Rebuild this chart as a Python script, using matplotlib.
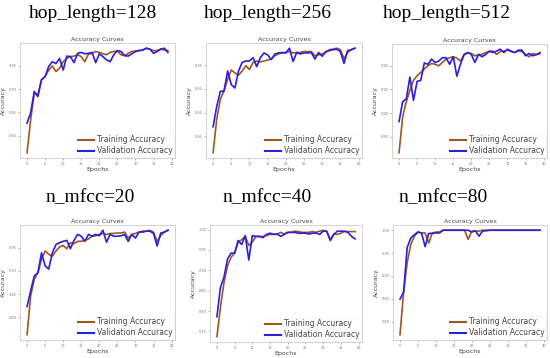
import matplotlib
matplotlib.use("Agg")
import matplotlib.pyplot as plt
import numpy as np

epochs = list(range(40))

titles = ["hop_length=128", "hop_length=256", "hop_length=512",
          "n_mfcc=20", "n_mfcc=40", "n_mfcc=80"]

train_hop128 = [0.763, 0.834, 0.891, 0.888, 0.920, 0.927, 0.941, 0.950, 0.938, 0.945,
                0.959, 0.966, 0.970, 0.971, 0.974, 0.970, 0.959, 0.975, 0.977, 0.981,
                0.979, 0.976, 0.974, 0.979, 0.981, 0.982, 0.974, 0.972, 0.977, 0.981,
                0.982, 0.983, 0.984, 0.988, 0.986, 0.983, 0.983, 0.986, 0.984, 0.983]
val_hop128 = [0.827, 0.849, 0.895, 0.884, 0.920, 0.927, 0.949, 0.959, 0.955, 0.966,
              0.941, 0.971, 0.970, 0.957, 0.977, 0.979, 0.976, 0.977, 0.979, 0.957,
              0.976, 0.970, 0.963, 0.959, 0.974, 0.983, 0.981, 0.972, 0.971, 0.976,
              0.981, 0.983, 0.984, 0.988, 0.986, 0.977, 0.981, 0.986, 0.988, 0.979]

train_hop256 = [0.765, 0.836, 0.878, 0.896, 0.920, 0.940, 0.934, 0.929, 0.938, 0.949,
                0.941, 0.956, 0.959, 0.957, 0.959, 0.961, 0.963, 0.970, 0.974, 0.976,
                0.977, 0.979, 0.976, 0.977, 0.977, 0.979, 0.979, 0.979, 0.970, 0.972,
                0.974, 0.977, 0.983, 0.984, 0.986, 0.983, 0.964, 0.977, 0.983, 0.986]
val_hop256 = [0.820, 0.863, 0.895, 0.895, 0.938, 0.909, 0.902, 0.938, 0.956, 0.959,
              0.959, 0.966, 0.947, 0.966, 0.976, 0.972, 0.962, 0.974, 0.976, 0.977,
              0.976, 0.986, 0.958, 0.977, 0.974, 0.976, 0.976, 0.977, 0.963, 0.977,
              0.969, 0.979, 0.981, 0.983, 0.984, 0.979, 0.954, 0.981, 0.983, 0.986]

train_hop512 = [0.766, 0.842, 0.874, 0.898, 0.919, 0.929, 0.936, 0.943, 0.950, 0.955,
                0.953, 0.950, 0.957, 0.964, 0.967, 0.969, 0.966, 0.960, 0.973, 0.977,
                0.976, 0.971, 0.973, 0.974, 0.978, 0.980, 0.981, 0.974, 0.980, 0.981,
                0.983, 0.980, 0.978, 0.981, 0.980, 0.974, 0.969, 0.976, 0.973, 0.978]
val_hop512 = [0.832, 0.874, 0.880, 0.926, 0.877, 0.917, 0.919, 0.956, 0.953, 0.964,
              0.957, 0.960, 0.967, 0.967, 0.953, 0.969, 0.928, 0.953, 0.974, 0.978,
              0.974, 0.957, 0.974, 0.969, 0.974, 0.981, 0.978, 0.981, 0.985, 0.978,
              0.985, 0.981, 0.978, 0.983, 0.983, 0.971, 0.976, 0.971, 0.974, 0.976]

train_mfcc20 = [0.762, 0.846, 0.882, 0.896, 0.925, 0.943, 0.936, 0.932, 0.943, 0.952,
                0.955, 0.948, 0.961, 0.959, 0.964, 0.964, 0.966, 0.969, 0.975, 0.976,
                0.979, 0.981, 0.979, 0.981, 0.981, 0.982, 0.982, 0.984, 0.971, 0.979,
                0.981, 0.984, 0.986, 0.986, 0.988, 0.984, 0.964, 0.976, 0.984, 0.988]
val_mfcc20 = [0.823, 0.857, 0.889, 0.896, 0.939, 0.911, 0.904, 0.939, 0.957, 0.961,
              0.964, 0.966, 0.948, 0.966, 0.979, 0.975, 0.964, 0.979, 0.975, 0.979,
              0.976, 0.988, 0.962, 0.979, 0.975, 0.975, 0.976, 0.979, 0.964, 0.979,
              0.971, 0.984, 0.984, 0.986, 0.986, 0.981, 0.954, 0.982, 0.984, 0.988]

train_mfcc40 = [0.737, 0.809, 0.870, 0.911, 0.932, 0.942, 0.969, 0.975, 0.983, 0.961,
                0.969, 0.983, 0.983, 0.983, 0.985, 0.988, 0.988, 0.988, 0.993, 0.989,
                0.993, 0.993, 0.996, 0.995, 0.993, 0.993, 0.993, 0.995, 0.993, 0.996,
                0.998, 0.995, 0.975, 0.989, 0.988, 0.991, 0.995, 0.995, 0.995, 0.995]
val_mfcc40 = [0.786, 0.858, 0.883, 0.928, 0.942, 0.942, 0.973, 0.963, 0.985, 0.925,
              0.985, 0.983, 0.983, 0.980, 0.988, 0.991, 0.988, 0.989, 0.983, 0.988,
              0.993, 0.993, 0.993, 0.991, 0.991, 0.991, 0.989, 0.991, 0.991, 0.988,
              0.996, 0.996, 0.973, 0.988, 0.996, 0.996, 0.996, 0.993, 0.983, 0.977]

train_mfcc80 = [0.771, 0.864, 0.929, 0.969, 0.987, 0.996, 0.994, 0.994, 0.972, 0.994,
                0.996, 0.996, 1.000, 1.000, 1.000, 1.000, 1.000, 1.000, 1.000, 0.980,
                0.998, 0.998, 0.998, 1.000, 1.000, 1.000, 1.000, 1.000, 1.000, 1.000,
                1.000, 1.000, 1.000, 1.000, 1.000, 1.000, 1.000, 1.000, 1.000, 1.000]
val_mfcc80 = [0.849, 0.864, 0.962, 0.983, 0.990, 0.996, 0.994, 0.964, 0.993, 0.993,
              0.994, 0.994, 1.000, 1.000, 1.000, 1.000, 1.000, 1.000, 1.000, 1.000,
              0.996, 0.999, 0.987, 0.998, 0.999, 1.000, 1.000, 1.000, 1.000, 1.000,
              1.000, 1.000, 1.000, 1.000, 1.000, 1.000, 1.000, 1.000, 1.000, 1.000]

train_series = [train_hop128, train_hop256, train_hop512, train_mfcc20, train_mfcc40, train_mfcc80]
val_series = [val_hop128, val_hop256, val_hop512, val_mfcc20, val_mfcc40, val_mfcc80]

W, H = 550, 358
fig = plt.figure(figsize=(5.5, 3.58), dpi=100)
fig.patch.set_facecolor("white")

# axes boxes in pixels: left, right, top, bottom
boxes = [(20, 175, 43, 158), (206, 362, 43, 158), (392, 547, 44, 158),
         (20, 175, 225, 340), (210, 362, 225, 342), (393, 547, 225, 340)]
title_pos = [(93, 14), (268, 14), (447, 14), (90, 198), (267, 198), (443, 198)]

train_color = "#a2561f"
val_color = "#2a1ee0"

for i in range(6):
    l, r, t, b = boxes[i]
    ax = fig.add_axes([l / W, 1 - b / H, (r - l) / W, (b - t) / H])
    ax.plot(epochs, train_series[i], color=train_color, lw=1.2, label="Training Accuracy")
    ax.plot(epochs, val_series[i], color=val_color, lw=1.2, label="Validation Accuracy")
    ax.set_xticks(range(0, 41, 5))
    ax.set_title("Accuracy Curves", fontsize=4.5, color="#444444", pad=1.5)
    ax.set_xlabel("Epochs", fontsize=4.5, color="#444444", labelpad=1)
    ax.set_ylabel("Accuracy", fontsize=4.5, color="#444444", labelpad=2)
    ax.tick_params(labelsize=2.5, colors="#777777", length=1.2, width=0.4, pad=1.5)
    for s in ax.spines.values():
        s.set_color("#cccccc")
        s.set_linewidth(0.6)
    leg = ax.legend(loc="lower right", fontsize=5.5, frameon=True, handlelength=2.0,
                    borderpad=0.2, labelspacing=0.25, handletextpad=0.4, borderaxespad=0.15)
    leg.get_frame().set_edgecolor("#eeeeee")
    leg.get_frame().set_linewidth(0.4)
    for txt in leg.get_texts():
        txt.set_color("#444444")
    for line in leg.get_lines():
        line.set_linewidth(1.5)
    tx, ty = title_pos[i]
    fig.text(tx / W, 1 - ty / H, titles[i], ha="center", va="center",
             fontsize=14, family="Liberation Serif", color="black")

fig.savefig("out.png", dpi=100, facecolor="white")
